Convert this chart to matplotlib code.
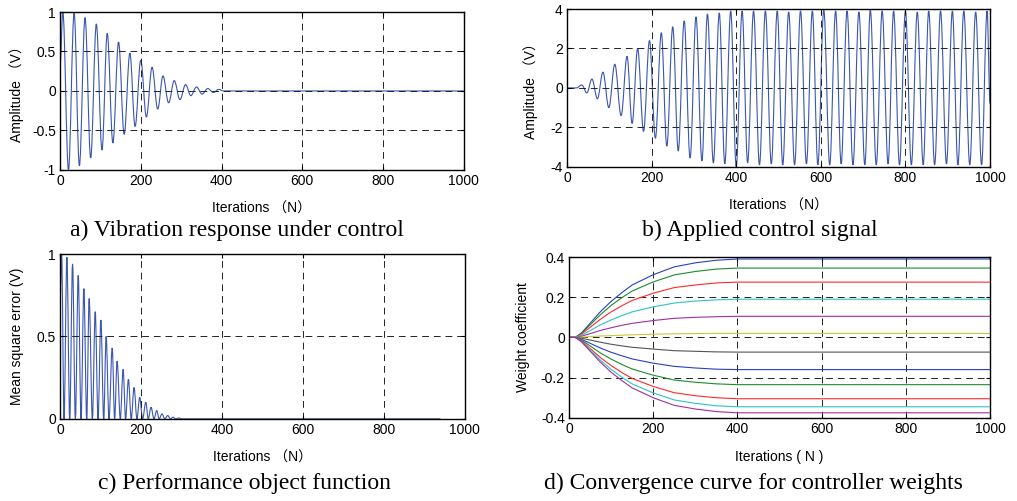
import matplotlib
matplotlib.use("Agg")
import matplotlib.pyplot as plt
from matplotlib.path import Path
from matplotlib.patches import PathPatch
from matplotlib.ticker import FormatStrFormatter

# a) vibration response: extrema (iteration, value)
a_t = [0, 7, 21, 35, 48, 62, 76, 90, 104, 117, 131, 145, 159, 173, 186, 200,
       214, 228, 242, 255, 269, 283, 297, 311, 324, 338, 352, 366, 380, 393, 405, 1000]
a_v = [0.3, 1.0, -1.0, 0.99, -0.95, 0.93, -0.85, 0.85, -0.75, 0.73, -0.66, 0.62,
       -0.55, 0.48, -0.45, 0.39, -0.33, 0.3, -0.23, 0.19, -0.15, 0.13, -0.11, 0.08,
       -0.06, 0.05, -0.04, 0.03, -0.02, 0.02, 0, 0]

# b) applied control signal extrema
b_t = [0, 22, 35, 47, 59, 72, 85, 99, 113, 128, 142, 154, 167, 181, 195, 209,
       223, 236, 250, 263, 277, 291, 305, 319, 332, 346, 360, 373, 387, 400,
       414, 427, 441, 455, 469, 483, 497, 510, 524, 538, 552, 566, 580, 593,
       607, 621, 635, 648, 662, 676, 690, 704, 717, 731, 745, 759, 772, 786,
       800, 814, 828, 842, 855, 869, 883, 897, 911, 924, 938, 952, 966, 980,
       993, 1000]
b_v = [0, 0, 0.15, -0.25, 0.45, -0.55, 0.8, -1.0, 1.2, -1.4, 1.6, -1.8, 2.0, -2.2,
       2.4, -2.55, 2.8, -2.95, 3.1, -3.2, 3.4, -3.55, 3.6, -3.7, 3.75, -3.8, 3.8,
       -3.85, 3.9, -4.0,
       3.9, -3.8, 3.9, -3.9, 3.9, -3.85, 3.9, -3.9, 3.85, -3.9, 3.9, -3.85,
       3.9, -3.9, 3.95, -3.9, 3.9, -3.85, 3.9, -3.9, 3.85, -3.9, 3.95, -3.9,
       3.9, -3.85, 3.9, -3.9, 3.9, -3.9, 3.85, -3.9, 3.9, -3.9, 3.9, -3.85,
       3.9, -3.9, 3.9, -3.9, 3.85, -3.9, 3.9, -0.8]

# c) mean square error peaks / zeros
c_t = [0, 4, 10, 17, 24, 31, 38, 45, 52, 59, 66, 72, 80, 87, 94, 101, 108, 114,
       121, 129, 135, 141, 149, 156, 162, 169, 176, 183, 190, 197, 204, 212, 218,
       225, 232, 239, 245, 252, 259, 266, 273, 279, 286, 293, 300, 940]
c_v = [0.7, 1.0, 0, 0.98, 0, 0.94, 0, 0.87, 0, 0.79, 0, 0.73, 0, 0.65, 0, 0.6, 0,
       0.5, 0, 0.43, 0, 0.35, 0, 0.3, 0, 0.24, 0, 0.19, 0, 0.13, 0, 0.1, 0, 0.07,
       0, 0.05, 0, 0.03, 0, 0.02, 0, 0.01, 0, 0.005, 0, 0]

# d) controller weights sampled at these iterations
d_t = [0, 15, 30, 50, 75, 100, 125, 150, 200, 250, 300, 350, 400, 1000]
d_w = [
    [0, 0, 0.023, 0.07, 0.129, 0.179, 0.222, 0.261, 0.312, 0.351, 0.371, 0.384, 0.39, 0.39],
    [0, 0, 0.021, 0.062, 0.114, 0.159, 0.197, 0.231, 0.276, 0.311, 0.328, 0.34, 0.345, 0.345],
    [0, 0, 0.017, 0.05, 0.091, 0.127, 0.157, 0.184, 0.22, 0.248, 0.261, 0.271, 0.275, 0.275],
    [0, 0, 0.011, 0.034, 0.063, 0.087, 0.108, 0.127, 0.152, 0.171, 0.181, 0.187, 0.19, 0.19],
    [0, 0, 0.006, 0.019, 0.035, 0.048, 0.06, 0.07, 0.084, 0.095, 0.1, 0.103, 0.105, 0.105],
    [0, 0, 0.001, 0.004, 0.007, 0.009, 0.011, 0.013, 0.016, 0.018, 0.019, 0.02, 0.02, 0.02],
    [0, 0, -0.004, -0.013, -0.024, -0.034, -0.042, -0.049, -0.058, -0.066, -0.069, -0.072, -0.073, -0.073],
    [0, 0, -0.01, -0.029, -0.053, -0.074, -0.091, -0.107, -0.128, -0.144, -0.152, -0.158, -0.16, -0.16],
    [0, 0, -0.014, -0.042, -0.078, -0.108, -0.134, -0.157, -0.188, -0.212, -0.223, -0.231, -0.235, -0.235],
    [0, 0, -0.018, -0.055, -0.101, -0.14, -0.174, -0.204, -0.244, -0.275, -0.29, -0.3, -0.305, -0.305],
    [0, 0, -0.021, -0.062, -0.114, -0.159, -0.197, -0.231, -0.276, -0.311, -0.328, -0.34, -0.345, -0.345],
    [0, 0, -0.023, -0.068, -0.124, -0.173, -0.214, -0.251, -0.3, -0.338, -0.356, -0.369, -0.375, -0.375],
]
d_colors = ["#2a3fbf", "#1e8a2e", "#ff2a2a", "#2cc4c4", "#a030a0", "#c8c838",
            "#555555", "#2a3fbf", "#1e8a2e", "#ff2a2a", "#2cc4c4", "#a030a0"]

captions = ["a) Vibration response under control", "b) Applied control signal",
            "c) Performance object function", "d) Convergence curve for controller weights"]

sans = ["Liberation Sans", "Noto Sans CJK SC"]
plt.rcParams["font.family"] = sans
plt.rcParams["font.size"] = 10

line_col = "#3a56b0"
fig = plt.figure(figsize=(10.17, 5.01), dpi=100)

ax_a = fig.add_axes([0.059, 0.661, 0.397, 0.315])
ax_b = fig.add_axes([0.5575, 0.667, 0.416, 0.315])
ax_c = fig.add_axes([0.059, 0.164, 0.398, 0.329])
ax_d = fig.add_axes([0.5595, 0.166, 0.414, 0.321])


def wave(ax, t, v, **kw):
    # smooth curve through the extrema: cubic segments with flat tangents
    k = 0.363
    verts = [(t[0], v[0])]
    codes = [Path.MOVETO]
    for i in range(1, len(t)):
        dt = t[i] - t[i - 1]
        verts += [(t[i - 1] + k * dt, v[i - 1]), (t[i] - k * dt, v[i]), (t[i], v[i])]
        codes += [Path.CURVE4] * 3
    ax.add_patch(PathPatch(Path(verts, codes), fill=False, **kw))


def style(ax, yticks, ylabel, xlabel, ypad):
    ax.set_xlim(0, 1000)
    ax.set_xticks([0, 200, 400, 600, 800, 1000])
    ax.set_yticks(yticks)
    ax.set_ylim(yticks[0], yticks[-1])
    ax.yaxis.set_major_formatter(FormatStrFormatter("%g"))
    ax.grid(True, color="#222222", lw=0.7, ls=(0, (7, 5)))
    ax.tick_params(direction="in", length=3, width=0.8, top=True, right=True,
                   labelsize=10, pad=3)
    for s in ax.spines.values():
        s.set_linewidth(1.0)
    ax.set_ylabel(ylabel, fontsize=10, labelpad=ypad)
    ax.set_xlabel(xlabel, fontsize=10, labelpad=10)


wave(ax_a, a_t, a_v, edgecolor=line_col, lw=0.8)
style(ax_a, [-1, -0.5, 0, 0.5, 1], "Amplitude （V）", "Iterations （N）", 6)

wave(ax_b, b_t, b_v, edgecolor=line_col, lw=0.8)
style(ax_b, [-4, -2, 0, 2, 4], "Amplitude （V）", "Iterations （N）", 9)

wave(ax_c, c_t, c_v, edgecolor=line_col, lw=0.8)
style(ax_c, [0, 0.5, 1], "Mean square error (V)", "Iterations （N）", 9)

for w, col in zip(d_w, d_colors):
    ax_d.plot(d_t, w, color=col, lw=0.8)
style(ax_d, [-0.4, -0.2, 0, 0.2, 0.4], "Weight coefficient", "Iterations ( N )", 8)

cap_pos = [(0.233, 0.541), (0.747, 0.541), (0.240, 0.036), (0.741, 0.036)]
for (x, y), txt in zip(cap_pos, captions):
    fig.text(x, y, txt, ha="center", va="center", fontsize=17,
             family="Liberation Serif")

fig.savefig("out.png", dpi=100)
